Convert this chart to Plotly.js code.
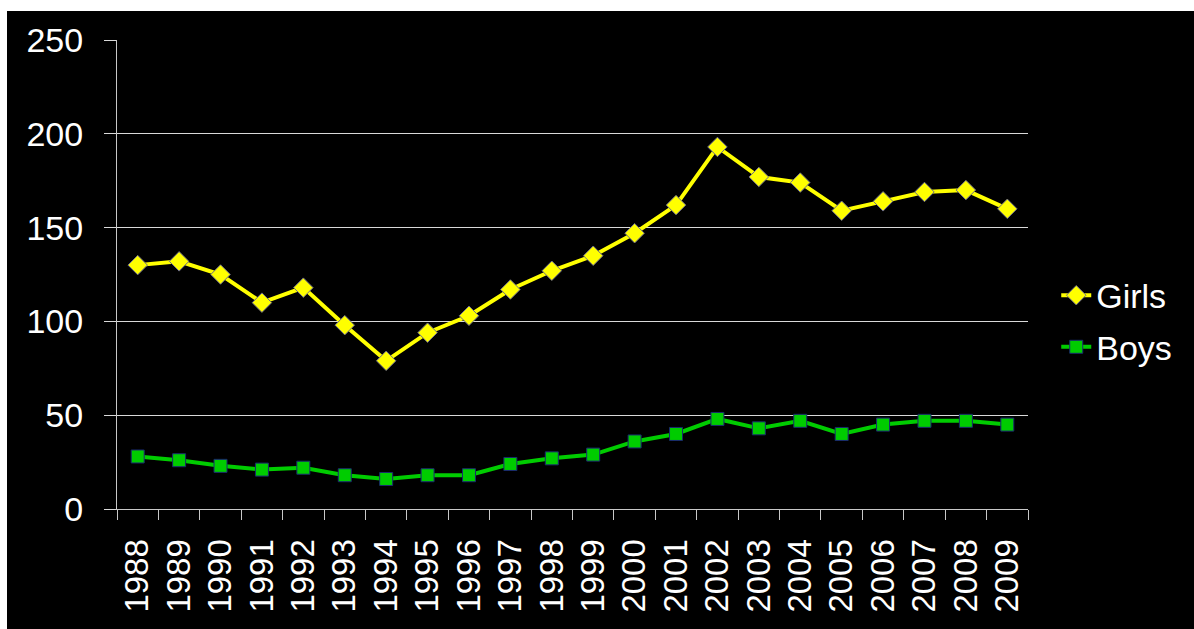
<!DOCTYPE html>
<html>
<head>
<meta charset="utf-8">
<script src="https://cdn.plot.ly/plotly-3.0.1.min.js"></script>
<style>
html,body{margin:0;padding:0;background:#ffffff;width:1194px;height:629px;overflow:hidden;}
#chart{position:absolute;left:7px;top:11px;width:1187px;height:618px;}
</style>
</head>
<body>
<div id="chart"></div>
<script>
const years = ["1988","1989","1990","1991","1992","1993","1994","1995","1996","1997","1998","1999","2000","2001","2002","2003","2004","2005","2006","2007","2008","2009"];
const girls = [130,132,125,110,118,98,79,94,103,117,127,135,147,162,193,177,174,159,164,169,170,160];
const boys = [28,26,23,21,22,18,16,18,18,24,27,29,36,40,48,43,47,40,45,47,47,45];
const yTicks = [0,50,100,150,200,250];

const traces = [
  {x: years, y: girls, name: "Girls", type: "scatter", mode: "lines+markers",
   line: {color: "#ffff00", width: 4},
   marker: {symbol: "diamond", size: 15, color: "#ffff00", line: {color: "#6b6b8a", width: 1}},
   legend: "legend"},
  {x: years, y: boys, name: "Boys", type: "scatter", mode: "lines+markers",
   line: {color: "#00cc00", width: 4},
   marker: {symbol: "square", size: 13, color: "#00cc00", line: {color: "#1a2a6e", width: 1}},
   legend: "legend2"}
];

const fam = "Liberation Sans, Arial, sans-serif";

const layout = {
  width: 1187, height: 618,
  paper_bgcolor: "#000000", plot_bgcolor: "#000000",
  margin: {l: 110, r: 166, t: 29, b: 120},
  font: {family: fam, color: "#ffffff", size: 32},
  showlegend: true,
  xaxis: {
    type: "category", tickson: "boundaries", ticks: "outside", ticklen: 10, tickcolor: "#c8c8c8", tickwidth: 1,
    showline: true, linecolor: "#c8c8c8", linewidth: 1, showgrid: false,
    tickangle: -90, tickfont: {size: 33, color: "#ffffff", family: fam},
    ticklabelstandoff: 16, range: [-0.5, 21.5]
  },
  yaxis: {
    range: [0, 250], tickvals: yTicks, ticktext: yTicks.map(String),
    ticks: "outside", ticklen: 12, tickcolor: "#d9d9d9", tickwidth: 1,
    showline: true, linecolor: "#c8c8c8", linewidth: 1,
    showgrid: true, gridcolor: "#d9d9d9", gridwidth: 1, zeroline: false,
    tickfont: {size: 34, color: "#ffffff", family: fam},
    ticklabelstandoff: 14
  },
  legend: {x: 1.031, y: 0.455, xanchor: "left", yanchor: "middle", bgcolor: "rgba(0,0,0,0)",
           font: {size: 34, color: "#ffffff", family: fam}, itemwidth: 30},
  legend2: {x: 1.031, y: 0.345, xanchor: "left", yanchor: "middle", bgcolor: "rgba(0,0,0,0)",
           font: {size: 34, color: "#ffffff", family: fam}, itemwidth: 30}
};

Plotly.newPlot("chart", traces, layout, {displayModeBar: false, staticPlot: true});
</script>
</body>
</html>
